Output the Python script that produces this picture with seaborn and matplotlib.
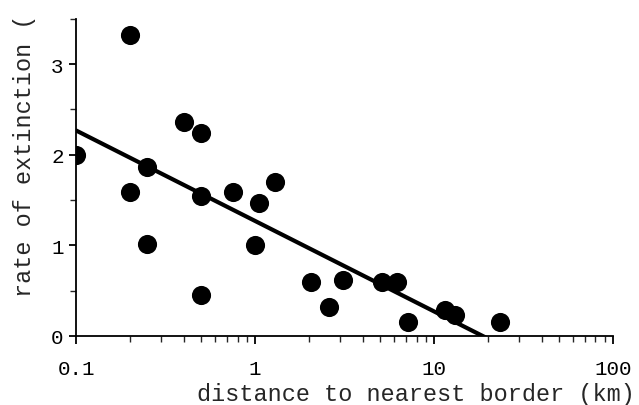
import numpy as np
import pandas as pd
import matplotlib
matplotlib.use("Agg")
import matplotlib.pyplot as plt
import matplotlib.ticker as mticker
import seaborn as sns

# distance to nearest border (km) and rate of extinction
distance = [0.1, 0.2, 0.2, 0.25, 0.25, 0.4, 0.5, 0.5, 0.5, 0.75, 1.05,
            1.0, 1.29, 2.05, 2.6, 3.1, 5.1, 6.2, 7.2, 11.5, 13.2, 23.5]
extinction = [2.0, 3.32, 1.59, 1.87, 1.02, 2.36, 2.24, 1.55, 0.45, 1.59, 1.47,
              1.0, 1.70, 0.60, 0.32, 0.62, 0.60, 0.60, 0.15, 0.29, 0.23, 0.15]
x_ticks = [0.1, 1, 10, 100]
x_ticklabels = ["0.1", "1", "10", "100"]
y_ticks = [0, 1, 2, 3]

df = pd.DataFrame({"distance": distance, "extinction": extinction})

sns.set_style("ticks")
plt.rcParams["font.family"] = ["Liberation Mono", "DejaVu Sans Mono"]

fig, ax = plt.subplots(figsize=(6.39, 4.06), dpi=100)
fig.subplots_adjust(left=0.119, right=0.959, bottom=0.17, top=0.951)

sns.scatterplot(data=df, x="distance", y="extinction", color="black",
                s=190, edgecolor="black", linewidth=0, ax=ax, zorder=3)
sns.regplot(data=df, x="distance", y="extinction", scatter=False, logx=True,
            ci=None, truncate=True, color="black", line_kws={"linewidth": 3},
            ax=ax)

ax.set_xscale("log")
ax.set_xlim(0.1, 100)
ax.set_ylim(0, 3.5)
ax.set_xticks(x_ticks)
ax.set_xticklabels(x_ticklabels)
ax.xaxis.set_minor_locator(mticker.LogLocator(base=10, subs=np.arange(2, 10)))
ax.xaxis.set_minor_formatter(mticker.NullFormatter())
ax.set_yticks(y_ticks)
ax.yaxis.set_minor_locator(mticker.MultipleLocator(0.5))

for s in ["top", "right"]:
    ax.spines[s].set_visible(False)
for s in ["left", "bottom"]:
    ax.spines[s].set_linewidth(1.3)
    ax.spines[s].set_color("black")

ax.tick_params(axis="x", which="major", length=6, width=1.3, pad=10.5,
               labelsize=15, colors="black")
ax.tick_params(axis="x", which="minor", length=4, width=1.0)
ax.tick_params(axis="y", which="major", length=5, width=1.3, pad=4,
               labelsize=15, colors="black")
ax.tick_params(axis="y", which="minor", length=4, width=1.0)

ax.set_xlabel("distance to nearest border (km)", fontsize=16.9)
ax.xaxis.set_label_coords(0.633, -0.145)
ax.set_ylabel("rate of extinction (", fontsize=16.9)
ax.yaxis.set_label_coords(-0.074, 0.571)

fig.savefig("out.png", dpi=100)
